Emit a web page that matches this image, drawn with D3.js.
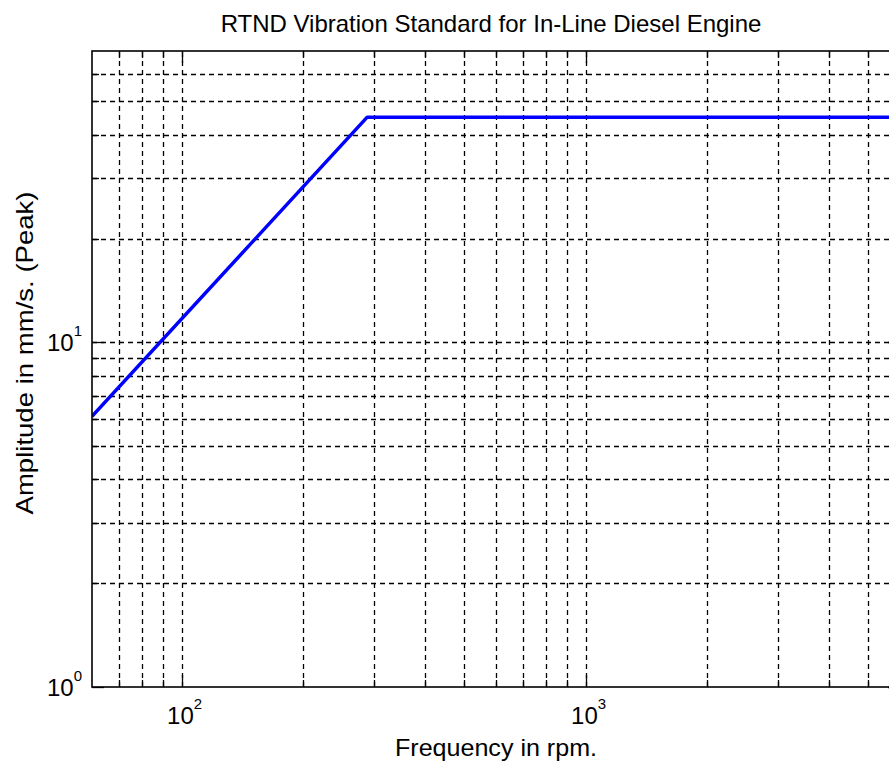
<!DOCTYPE html>
<html>
<head>
<meta charset="utf-8">
<script src="https://cdn.jsdelivr.net/npm/d3@7"></script>
<style>
html, body { margin: 0; padding: 0; background: #fff; }
svg { display: block; }
text { font-family: "Liberation Sans", Arial, sans-serif; fill: #000; }
</style>
</head>
<body>
<div id="chart"></div>
<script>
// ---- data ----
const freqRpm = [60, 288, 6000];
const amplitudePeak = [6.1, 45, 45];
const xDomain = [60, 6000];
const yDomain = [1, 70];
const xMajorTicks = [100, 1000];
const xMinorTicks = [70, 80, 90, 200, 300, 400, 500, 600, 700, 800, 900, 2000, 3000, 4000, 5000];
const yMajorTicks = [1, 10];
const yMinorTicks = [2, 3, 4, 5, 6, 7, 8, 9, 20, 30, 40, 50, 60];
const xTickExp = {100: "2", 1000: "3"};
const yTickExp = {1: "0", 10: "1"};
const titleText = "RTND Vibration Standard for In-Line Diesel Engine";
const xLabelText = "Frequency in rpm.";
const yLabelText = "Amplitude in mm/s. (Peak)";

// ---- layout ----
const W = 889, H = 767;
const L = 92, T = 51, R = 900, B = 687;

const svg = d3.select("#chart").append("svg")
  .attr("width", W).attr("height", H)
  .style("overflow", "hidden");

const x = d3.scaleLog().domain(xDomain).range([L, R]);
const y = d3.scaleLog().domain(yDomain).range([B, T]);

svg.append("defs").append("clipPath").attr("id", "plotclip")
  .append("rect").attr("x", L).attr("y", T).attr("width", R - L).attr("height", B - T);

// grid
const grid = svg.append("g").attr("stroke", "#000").attr("stroke-width", 1.3)
  .attr("stroke-dasharray", "5,4").attr("fill", "none");
const xAll = xMajorTicks.concat(xMinorTicks);
const yAll = yMajorTicks.filter(d => d > yDomain[0]).concat(yMinorTicks);
grid.selectAll("line.vx").data(xAll).join("line")
  .attr("x1", d => Math.round(x(d)) + 0.5).attr("x2", d => Math.round(x(d)) + 0.5)
  .attr("y1", B).attr("y2", T);
grid.selectAll("line.hy").data(yAll).join("line")
  .attr("y1", d => Math.round(y(d)) + 0.5).attr("y2", d => Math.round(y(d)) + 0.5)
  .attr("x1", L).attr("x2", R);

// ticks (inside, all four sides)
const tk = svg.append("g").attr("stroke", "#000").attr("stroke-width", 1.3);
const majLen = 12, minLen = 7;
function xTicks(vals, len) {
  vals.forEach(v => {
    const px = Math.round(x(v)) + 0.5;
    tk.append("line").attr("x1", px).attr("x2", px).attr("y1", B).attr("y2", B - len);
    tk.append("line").attr("x1", px).attr("x2", px).attr("y1", T).attr("y2", T + len);
  });
}
function yTicks(vals, len) {
  vals.forEach(v => {
    const py = Math.round(y(v)) + 0.5;
    tk.append("line").attr("y1", py).attr("y2", py).attr("x1", L).attr("x2", L + len);
    tk.append("line").attr("y1", py).attr("y2", py).attr("x1", R).attr("x2", R - len);
  });
}
xTicks(xMajorTicks, majLen); xTicks(xMinorTicks, minLen);
yTicks(yMajorTicks, majLen); yTicks(yMinorTicks, minLen);

// data line
const line = d3.line().x((d, i) => x(freqRpm[i])).y(d => y(d));
svg.append("path").datum(amplitudePeak)
  .attr("clip-path", "url(#plotclip)")
  .attr("d", line)
  .attr("fill", "none").attr("stroke", "#0000ff").attr("stroke-width", 3.5)
  .attr("stroke-linejoin", "round");

// axes box
svg.append("rect").attr("x", L).attr("y", T).attr("width", R - L).attr("height", B - T)
  .attr("fill", "none").attr("stroke", "#000").attr("stroke-width", 1.6);

// tick labels
const baseFs = 24, expFs = 15;
xMajorTicks.forEach(v => {
  const g = svg.append("text").attr("x", x(v) + 3).attr("y", B + 37)
    .attr("text-anchor", "middle").attr("font-size", baseFs);
  g.append("tspan").text("10");
  g.append("tspan").attr("dy", -15).attr("font-size", expFs).text(xTickExp[v]);
});
yMajorTicks.forEach(v => {
  const g = svg.append("text").attr("x", L - 10).attr("y", y(v) + 8.5)
    .attr("text-anchor", "end").attr("font-size", baseFs);
  g.append("tspan").text("10");
  g.append("tspan").attr("dy", -15).attr("font-size", expFs).text(yTickExp[v]);
});

// title and labels
svg.append("text").attr("x", 491).attr("y", 32).attr("text-anchor", "middle")
  .attr("font-size", 24).text(titleText);
svg.append("text").attr("x", 496).attr("y", 756).attr("text-anchor", "middle")
  .attr("font-size", 24).attr("textLength", 202).attr("lengthAdjust", "spacingAndGlyphs")
  .text(xLabelText);
svg.append("text").attr("transform", "translate(33,353) rotate(-90)")
  .attr("text-anchor", "middle").attr("font-size", 24)
  .attr("textLength", 323).attr("lengthAdjust", "spacingAndGlyphs")
  .text(yLabelText);
</script>
</body>
</html>
